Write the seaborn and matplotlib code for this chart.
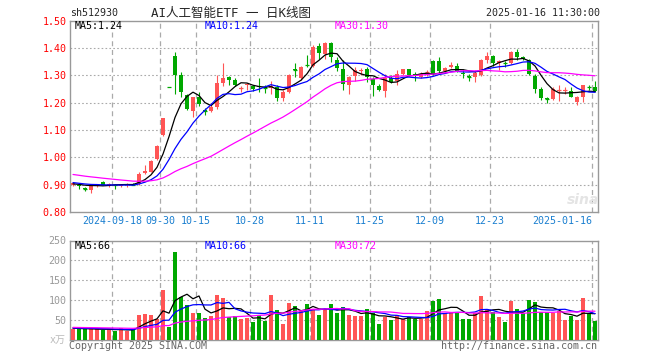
import matplotlib
matplotlib.use("Agg")
import matplotlib.pyplot as plt
import numpy as np
import pandas as pd
import seaborn as sns

# ---- daily K data (2024-09-05 .. 2025-01-16) ----
opens = [0.900, 0.900, 0.887, 0.880, 0.897, 0.908, 0.898, 0.900, 0.895, 0.897,
         0.903, 0.902, 0.942, 0.947, 0.993, 1.080, 1.258, 1.370, 1.302, 1.227,
         1.170, 1.222, 1.172, 1.170, 1.185, 1.272, 1.292, 1.283, 1.250, 1.263,
         1.262, 1.262, 1.258, 1.252, 1.258, 1.218, 1.240, 1.322, 1.290, 1.338,
         1.335, 1.405, 1.378, 1.416, 1.356, 1.324, 1.263, 1.296, 1.316, 1.322,
         1.285, 1.260, 1.242, 1.288, 1.279, 1.306, 1.321, 1.306, 1.295, 1.310,
         1.352, 1.352, 1.316, 1.330, 1.333, 1.309, 1.297, 1.294, 1.300, 1.355,
         1.369, 1.343, 1.346, 1.343, 1.385, 1.365, 1.357, 1.296, 1.251, 1.216,
         1.212, 1.243, 1.244, 1.242, 1.203, 1.221, 1.258, 1.257]
highs = [0.910, 0.905, 0.893, 0.900, 0.902, 0.912, 0.905, 0.902, 0.903, 0.907,
         0.907, 0.945, 0.972, 0.990, 1.045, 1.145, 1.258, 1.385, 1.310, 1.232,
         1.222, 1.240, 1.180, 1.200, 1.300, 1.345, 1.296, 1.290, 1.262, 1.270,
         1.265, 1.288, 1.265, 1.278, 1.263, 1.245, 1.305, 1.343, 1.333, 1.373,
         1.410, 1.416, 1.420, 1.420, 1.365, 1.355, 1.296, 1.330, 1.327, 1.330,
         1.294, 1.268, 1.304, 1.300, 1.318, 1.323, 1.323, 1.310, 1.310, 1.320,
         1.355, 1.365, 1.330, 1.347, 1.345, 1.324, 1.303, 1.318, 1.360, 1.385,
         1.375, 1.355, 1.352, 1.388, 1.397, 1.372, 1.360, 1.304, 1.257, 1.220,
         1.257, 1.263, 1.257, 1.257, 1.223, 1.265, 1.263, 1.278]
lows = [0.895, 0.885, 0.877, 0.870, 0.893, 0.897, 0.893, 0.884, 0.890, 0.890,
        0.897, 0.900, 0.938, 0.945, 0.990, 1.077, 1.257, 1.230, 1.220, 1.172,
        1.148, 1.188, 1.155, 1.166, 1.178, 1.262, 1.265, 1.262, 1.240, 1.245,
        1.243, 1.240, 1.235, 1.233, 1.207, 1.207, 1.235, 1.294, 1.283, 1.330,
        1.330, 1.360, 1.360, 1.350, 1.317, 1.245, 1.231, 1.280, 1.300, 1.275,
        1.223, 1.243, 1.221, 1.272, 1.263, 1.300, 1.298, 1.280, 1.290, 1.297,
        1.300, 1.309, 1.308, 1.325, 1.310, 1.290, 1.280, 1.276, 1.297, 1.343,
        1.335, 1.318, 1.330, 1.340, 1.357, 1.355, 1.300, 1.235, 1.209, 1.200,
        1.209, 1.207, 1.232, 1.219, 1.190, 1.203, 1.245, 1.238]
closes = [0.905, 0.895, 0.885, 0.898, 0.900, 0.900, 0.902, 0.898, 0.900, 0.902,
          0.900, 0.940, 0.950, 0.987, 1.040, 1.143, 1.257, 1.300, 1.237, 1.176,
          1.220, 1.196, 1.170, 1.182, 1.272, 1.290, 1.282, 1.266, 1.252, 1.267,
          1.250, 1.258, 1.255, 1.262, 1.218, 1.240, 1.300, 1.320, 1.330, 1.336,
          1.404, 1.383, 1.416, 1.365, 1.325, 1.267, 1.294, 1.318, 1.320, 1.295,
          1.263, 1.246, 1.288, 1.276, 1.304, 1.321, 1.300, 1.297, 1.305, 1.313,
          1.305, 1.316, 1.327, 1.339, 1.316, 1.303, 1.295, 1.309, 1.355, 1.369,
          1.346, 1.351, 1.344, 1.385, 1.367, 1.360, 1.306, 1.251, 1.215, 1.214,
          1.251, 1.246, 1.247, 1.222, 1.219, 1.263, 1.256, 1.243]
volumes = [27, 27, 27, 29, 27, 25, 27, 23, 29, 23,
           25, 62, 65, 62, 52, 125, 33, 222, 108, 87,
           68, 68, 56, 61, 112, 106, 58, 61, 54, 56,
           46, 62, 48, 112, 75, 40, 93, 85, 75, 90,
           79, 62, 77, 90, 68, 83, 62, 60, 60, 77,
           67, 40, 58, 50, 62, 52, 57, 52, 52, 72,
           98, 104, 67, 70, 70, 52, 52, 67, 110, 79,
           71, 57, 45, 98, 79, 69, 100, 95, 71, 71,
           67, 72, 50, 60, 50, 105, 69, 47]

# closes / volumes before the window, only needed so the MA lines start where they do
prev_closes = [0.985, 0.980, 0.975, 0.970, 0.975, 0.970, 0.965, 0.965, 0.960, 0.965,
               0.950, 0.945, 0.940, 0.935, 0.940, 0.930, 0.925, 0.930, 0.920, 0.915,
               0.920, 0.910, 0.915, 0.905, 0.910, 0.905, 0.900, 0.905, 0.900]
prev_volumes = [35, 34, 33, 34, 33, 32, 33, 34, 33, 32,
                32, 33, 32, 31, 32, 31, 32, 31, 32, 31,
                30, 31, 30, 31, 30, 31, 30, 31, 30]

tick_idx = [7, 15, 21, 30, 40, 50, 60, 70, 87]
tick_labels = ['2024-09-18', '09-30', '10-15', '10-28', '11-11',
               '11-25', '12-09', '12-23', '2025-01-16']
price_ticks = [0.80, 0.90, 1.00, 1.10, 1.20, 1.30, 1.40, 1.50]
vol_ticks = [50, 100, 150, 200, 250]
price_ma_text = ['MA5:1.24', 'MA10:1.24', 'MA30:1.30']
vol_ma_text = ['MA5:66', 'MA10:66', 'MA30:72']

sns.set_style("white")
plt.rcParams['font.family'] = ['DejaVu Sans Mono', 'Noto Sans CJK SC']

RED, GREEN = '#ff5555', '#00a800'
GRID = '#aaaaaa'
MA_COLORS = ['black', '#0000ff', '#ff00ff']

df = pd.DataFrame({'o': opens, 'h': highs, 'l': lows, 'c': closes, 'v': volumes})
df['i'] = np.arange(len(df))
n0 = len(prev_closes)
all_c = pd.Series(prev_closes + closes)
all_v = pd.Series(prev_volumes + volumes)
for w in (5, 10, 30):
    df[f'ma{w}'] = all_c.rolling(w).mean().iloc[n0:].values
    df[f'vma{w}'] = all_v.rolling(w).mean().iloc[n0:].values
colors = np.where(df.c >= df.o, RED, GREEN)

W, H = 660, 360
fig = plt.figure(figsize=(6.6, 3.6), dpi=100)
fig.patch.set_facecolor('white')
ax = fig.add_axes([70 / W, 1 - 212 / H, 528 / W, (212 - 20.5) / H])
axv = fig.add_axes([70 / W, 1 - 340 / H, 528 / W, (340 - 240.5) / H])

# candles
ax.vlines(df.i, df.l, df.h, colors=colors, lw=0.8, zorder=3)
body = (df.c - df.o).abs()
ax.bar(df.i, body, bottom=df[['o', 'c']].min(axis=1), width=0.8,
       color=colors, linewidth=0, zorder=3)
doji = body < 0.004
ax.hlines(df.c[doji], df.i[doji] - 0.4, df.i[doji] + 0.4,
          colors=colors[doji.values], lw=0.9, zorder=3)
for w, col in zip((5, 10, 30), MA_COLORS):
    sns.lineplot(data=df, x='i', y=f'ma{w}', ax=ax, color=col, lw=0.9,
                 legend=False, zorder=4)

# volume
axv.bar(df.i, df.v, width=0.8, color=colors, linewidth=0, zorder=3)
for w, col in zip((5, 10, 30), MA_COLORS):
    sns.lineplot(data=df, x='i', y=f'vma{w}', ax=axv, color=col, lw=0.9,
                 legend=False, zorder=4)

for a in (ax, axv):
    a.set_xlim(-0.5, 87.5)
    a.set_xlabel('')
    a.set_ylabel('')
    for t in tick_idx:
        a.axvline(t - 0.5, color=GRID, lw=0.9, ls=(0, (4, 3)), zorder=1)
    for s in a.spines.values():
        s.set_color('#999999')
        s.set_linewidth(1.0)
    a.tick_params(length=0)

ax.set_ylim(0.80, 1.50)
for t in price_ticks[1:-1]:
    ax.axhline(t, color=GRID, lw=0.8, ls=(0, (1.5, 2)), zorder=1)
ax.set_yticks(price_ticks, [f'{t:.2f}' for t in price_ticks])
ax.tick_params(axis='y', colors='#ff0000', labelsize=7.2, pad=2.5)
ax.set_xticks([t - 0.5 for t in tick_idx], tick_labels)
ax.tick_params(axis='x', colors='#1a7fd0', labelsize=7.2, pad=3)
ax.get_xticklabels()[-1].set_ha('right')

axv.set_ylim(0, 250)
for t in vol_ticks[:-1]:
    axv.axhline(t, color=GRID, lw=0.8, ls=(0, (1.5, 2)), zorder=1)
axv.set_yticks(vol_ticks, [str(t) for t in vol_ticks])
axv.tick_params(axis='y', colors='#999999', labelsize=7.2, pad=2.5)
axv.set_xticks([])


def ftext(x, y, s, **kw):
    kw.setdefault('fontsize', 7.2)
    kw.setdefault('va', 'center')
    fig.text(x / W, 1 - y / H, s, **kw)


ftext(70, 13, 'sh512930')
ftext(151, 13, 'AI人工智能ETF 一 日K线图', fontsize=9)
ftext(600, 13, '2025-01-16 11:30:00', ha='right')
for x, s, col in zip((75, 205, 335), price_ma_text, MA_COLORS):
    ftext(x, 26, s, color=col)
for x, s, col in zip((75, 205, 335), vol_ma_text, MA_COLORS):
    ftext(x, 246, s, color=col)
ftext(66, 340, 'x万', ha='right', color='#bbbbbb')
ftext(69, 346, 'Copyright 2025 SINA.COM', color='#666666')
ftext(597, 346, 'http://finance.sina.com.cn', ha='right', color='#666666')
ftext(583, 200, 'sina', color='#e4e4e4', fontsize=10, weight='bold',
      style='italic', ha='center', family='DejaVu Sans')

fig.savefig('out.png', dpi=100, facecolor='white')
